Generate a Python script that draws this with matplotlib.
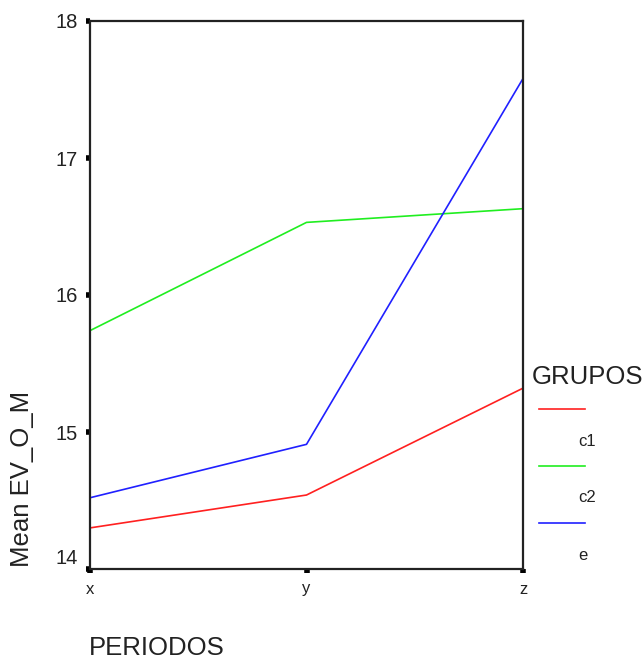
import matplotlib
matplotlib.use("Agg")
import matplotlib.pyplot as plt
from matplotlib.lines import Line2D
from matplotlib.transforms import ScaledTranslation

plt.rcParams['font.family'] = ['Liberation Sans', 'DejaVu Sans']

periods = ["x", "y", "z"]
groups = ["c1", "c2", "e"]
c1_means = [14.30, 14.54, 15.32]
c2_means = [15.74, 16.53, 16.63]
e_means = [14.52, 14.91, 17.58]
yticks = [14, 15, 16, 17, 18]
colors = ["#ff2020", "#20ee20", "#2020ff"]

W, H = 642, 659
fig = plt.figure(figsize=(W / 100, H / 100), dpi=100)
ax = fig.add_axes([90 / W, 1 - 569 / H, (523 - 90) / W, (569 - 21) / H])

xs = list(range(len(periods)))
for vals, col in zip([c1_means, c2_means, e_means], colors):
    ax.plot(xs, vals, color=col, lw=1.2, solid_capstyle='butt')

ax.set_xlim(0, 2)
ax.set_ylim(14, 18)
ax.set_yticks(yticks)
ax.set_yticklabels([str(t) for t in yticks], fontsize=14.5, color='#222222')
ax.set_xticks(xs)
ax.set_xticklabels(periods, fontsize=12, color='#222222')
ax.tick_params(axis='both', direction='out', length=3, width=4, color='black', pad=6)
# lowest y label sits a little above its tick
lab0 = ax.get_yticklabels()[0]
lab0.set_transform(lab0.get_transform() + ScaledTranslation(0, 0.12, fig.dpi_scale_trans))
for sp in ax.spines.values():
    sp.set_linewidth(1.6)
    sp.set_color('#222222')

fig.text(22 / W, 1 - 567 / H, "Mean EV_O_M", rotation=90, ha='center', va='bottom', fontsize=18.5, color='#222222')
fig.text(89 / W, 1 - 648 / H, "PERIODOS", ha='left', va='center', fontsize=18.5, color='#222222')

# legend
fig.text(532 / W, 1 - 377 / H, "GRUPOS", ha='left', va='center', fontsize=18.5, color='#222222')
leg_line_y = [409, 466, 523]
for g, col, ly in zip(groups, colors, leg_line_y):
    fig.add_artist(Line2D([539 / W, 585 / W], [1 - ly / H, 1 - ly / H], color=col, lw=1.2,
                          transform=fig.transFigure))
    fig.text(578 / W, 1 - (ly + 32) / H, g, ha='left', va='center', fontsize=12, color='#222222')

fig.savefig("out.png", dpi=100)
